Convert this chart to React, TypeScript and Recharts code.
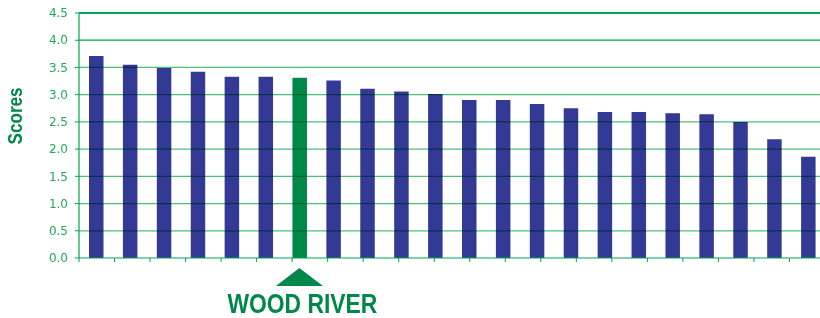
import React from 'react';
import { BarChart, Bar, XAxis, YAxis, Cell, ReferenceLine } from 'recharts';

const categories = [
  'School 1', 'School 2', 'School 3', 'School 4', 'School 5', 'School 6',
  'WOOD RIVER', 'School 8', 'School 9', 'School 10', 'School 11', 'School 12',
  'School 13', 'School 14', 'School 15', 'School 16', 'School 17', 'School 18',
  'School 19', 'School 20', 'School 21', 'School 22',
];
const scores = [
  3.71, 3.55, 3.49, 3.42, 3.33, 3.33, 3.31, 3.26, 3.11, 3.06, 3.01,
  2.90, 2.90, 2.83, 2.75, 2.68, 2.68, 2.66, 2.64, 2.50, 2.18, 1.86,
];
const yTicks = [0, 0.5, 1, 1.5, 2, 2.5, 3, 3.5, 4, 4.5];
const highlight = 'WOOD RIVER';
const yLabel = 'Scores';

const boundaryTicks = categories.map((_, i) => i).concat([categories.length]);
const data = categories.map((name, i) => ({ name, score: scores[i] }));

const BLUE = '#333a96';
const DARK_GREEN = '#00874a';
const AXIS_GREEN = '#00a651';
const GRID_GREEN = '#4cbf7c';
const TICK_GREEN = '#25a85b';
const NARROW = "'Liberation Sans Narrow', 'Arial Narrow', 'Liberation Sans', Arial, sans-serif";

const ScoresLabel = (props: any) => {
  const vb = props.viewBox || { x: 0, y: 0, width: 0, height: 0 };
  const cx = 22.5;
  const cy = vb.y + vb.height * 0.42;
  return (
    <text
      x={cx}
      y={cy}
      transform={`rotate(-90, ${cx}, ${cy})`}
      textAnchor="middle"
      fill={DARK_GREEN}
      fontFamily={NARROW}
      fontWeight="bold"
      fontSize={21}
      textLength={57}
      lengthAdjust="spacingAndGlyphs"
    >
      {yLabel}
    </text>
  );
};

const HighlightTick = (props: any) => {
  const { x, y, payload } = props;
  if (!payload || payload.value !== highlight) return <g />;
  const top = y - 3;
  return (
    <g>
      <polygon
        points={`${x},${top} ${x - 23.5},${top + 18} ${x + 23.5},${top + 18}`}
        fill={DARK_GREEN}
      />
      <text
        x={x + 3}
        y={top + 45}
        textAnchor="middle"
        fill={DARK_GREEN}
        fontFamily={NARROW}
        fontWeight="bold"
        fontSize={27}
        textLength={150}
        lengthAdjust="spacingAndGlyphs"
      >
        {highlight}
      </text>
    </g>
  );
};

export default function App() {
  return (
    <div style={{ position: 'absolute', left: 0, top: 0, width: 820, height: 318, overflow: 'hidden', background: '#fff' }}>
      <BarChart
        width={826}
        height={318}
        data={data}
        margin={{ top: 13, right: 1, bottom: 0, left: 0 }}
        barCategoryGap={0}
      >
        <XAxis
          xAxisId="a"
          type="number"
          domain={[0, categories.length]}
          ticks={boundaryTicks}
          allowDataOverflow
          tickFormatter={() => ''}
          tickSize={4}
          height={5}
          axisLine={{ stroke: AXIS_GREEN, strokeWidth: 1.2 }}
          tickLine={{ stroke: AXIS_GREEN }}
          interval={0}
        />
        <XAxis
          xAxisId="b"
          dataKey="name"
          type="category"
          axisLine={false}
          tickLine={false}
          height={55}
          interval={0}
          tick={<HighlightTick />}
        />
        <YAxis
          width={79}
          domain={[0, 4.5]}
          ticks={yTicks}
          interval={0}
          tickFormatter={(v: number) => v.toFixed(1)}
          tickSize={4}
          tickMargin={7}
          axisLine={{ stroke: AXIS_GREEN, strokeWidth: 1.2 }}
          tickLine={{ stroke: AXIS_GREEN }}
          tick={{ fill: TICK_GREEN, fontSize: 12, fontFamily: "'DejaVu Sans', Verdana, sans-serif" }}
          label={<ScoresLabel />}
        />
        <Bar xAxisId="b" dataKey="score" barSize={14.5} isAnimationActive={false}>
          {data.map((d) => (
            <Cell key={d.name} fill={d.name === highlight ? DARK_GREEN : BLUE} />
          ))}
        </Bar>
        {yTicks.filter((t) => t > 0).map((t) => (
          <ReferenceLine
            key={t}
            xAxisId="b"
            y={t}
            stroke={t === 4.5 || t === 4 ? AXIS_GREEN : GRID_GREEN}
            strokeWidth={t === 4.5 ? 2 : 1.3}
            style={{ mixBlendMode: 'multiply' }}
          />
        ))}
      </BarChart>
    </div>
  );
}
